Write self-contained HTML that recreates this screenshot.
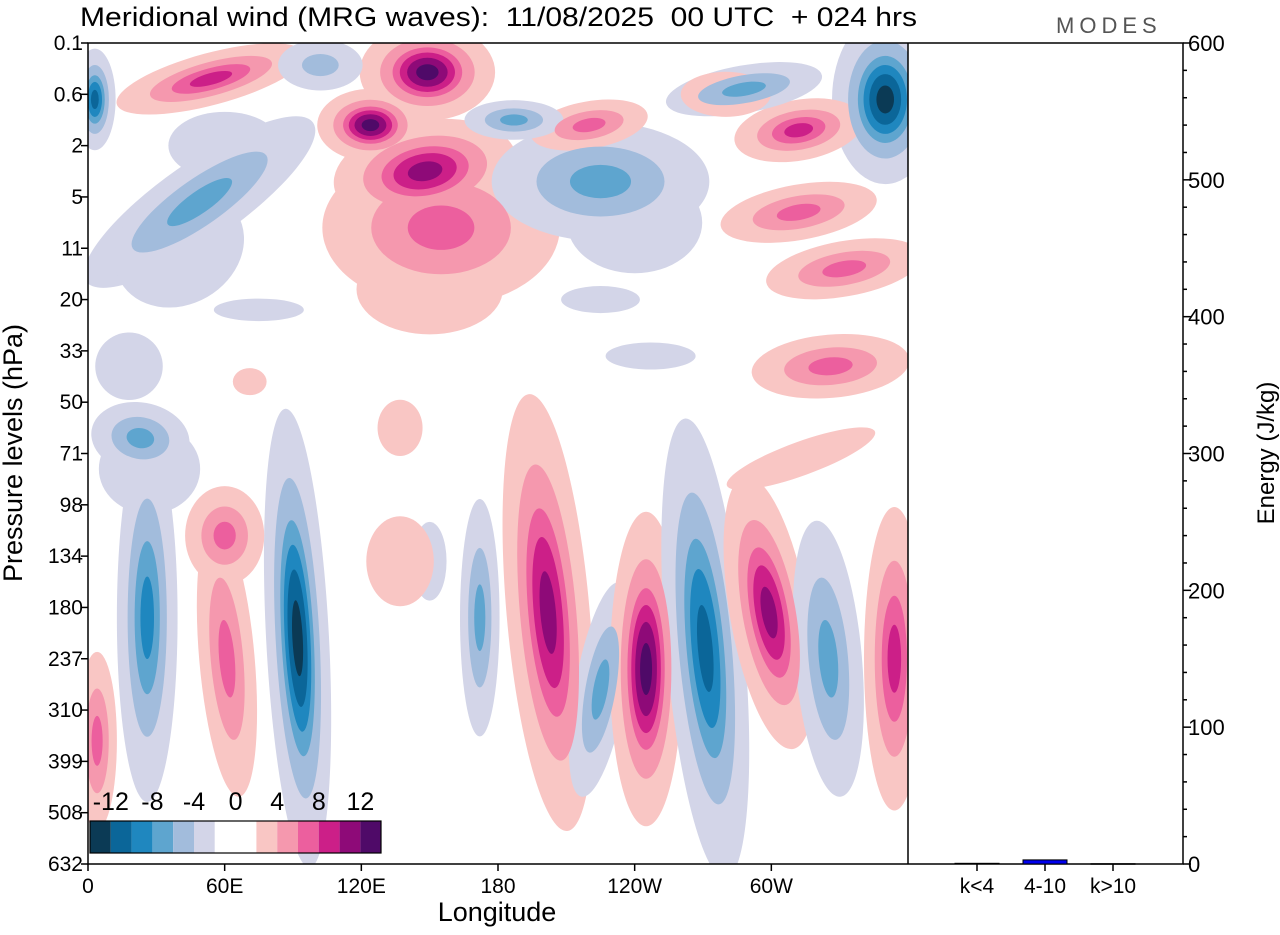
<!DOCTYPE html>
<html><head><meta charset="utf-8"><style>
body{margin:0;background:#fff;width:1280px;height:930px;overflow:hidden;font-family:"Liberation Sans",sans-serif}
</style></head><body>
<svg id="c" width="1280" height="930" xmlns="http://www.w3.org/2000/svg" font-family="Liberation Sans, sans-serif">
<defs><clipPath id="pc"><rect x="88" y="43" width="820" height="821"/></clipPath></defs>
<text x="80" y="26" font-size="27" textLength="837" lengthAdjust="spacingAndGlyphs" style="white-space:pre">Meridional wind (MRG waves):  11/08/2025  00 UTC  + 024 hrs</text>
<text x="1056" y="33" font-size="22" fill="#555" letter-spacing="5">MODES</text>
<g id="field" clip-path="url(#pc)"></g>
<g id="axes"></g>
</svg>
<script>
const blobLon=[26,92,61,60,172,202,225,245,271,299,325,354,4,23,149,124,148,155,150,54,3,350,49,225,220,312,312,332,288,102,187,326,71,18,313,247,75,225,137,150,27,137,40,60,240,280];
const blobLev=[11.2,11.6,12.0,9.6,11.2,11.1,12.6,12.2,11.8,11.1,12.0,12.0,13.6,7.7,0.57,1.6,2.5,3.6,4.8,0.7,1.1,1.1,3.1,2.7,1.6,1.7,3.3,4.4,0.9,0.43,1.5,6.3,6.6,6.3,8.1,6.1,5.2,5.0,7.5,10.1,8.3,10.1,4.0,2.0,3.5,1.0];
const blobPeak=[-9,-13,7,7,-7,11,-7,13,-11,11,-7,9,7,-7,13,13,11,7,3,9,-11,-13,-7,-7,7,9,7,7,-7,-5,-7,7,3,-3,3,-3,-3,-3,3,-3,-3,3,-3,-3,-3,3];
const blobSx=[14,13,14,20,10,18,13,15,17,17,17,14,10,25,28,22,40,60,65,45,9,22,70,55,30,30,40,40,40,25,25,40,15,30,70,40,40,35,20,15,45,30,60,50,60,40];
const blobSy=[85,95,70,25,60,95,55,65,100,60,70,70,45,18,20,15,22,40,40,12,22,35,20,30,12,14,14,14,12,15,10,16,12,30,15,12,10,12,25,35,40,40,50,30,45,20];
const blobRot=[0,-3,-5,0,0,-5,10,0,-5,-10,-5,0,0,10,0,0,-10,0,0,-15,0,0,-35,0,-10,-10,-10,-10,-10,0,0,-5,0,0,-20,0,0,0,0,0,0,0,-30,0,0,0];
const levelLabels=["0.1","0.6","2","5","11","20","33","50","71","98","134","180","237","310","399","508","632"];
const lonLabels=["0","60E","120E","180","120W","60W"];
const lonTicks=[0,60,120,180,240,300];
const energyTicks=[0,100,200,300,400,500,600];
const waveCats=["k<4","4-10","k>10"];
const waveEnergy=[0.5,3,0.2];
const cbLabels=["-12","-8","-4","0","4","8","12"];
const negCols=["#d3d5e8","#a2bcdc","#5ea5cf","#1f87bf","#0b6699","#0b3a55"];
const posCols=["#f9c6c4","#f598ae","#ec5f9e","#cc1f88","#8e0a78","#4f0a68"];
const X0=88,X1=908,Y0=43,Y1=864;
const xs=l=>X0+l*(X1-X0)/360, ys=i=>Y0+i*(Y1-Y0)/16, ye=e=>Y1-e*(Y1-Y0)/600;
const NS="http://www.w3.org/2000/svg";
function mk(t,a,p){const e=document.createElementNS(NS,t);for(const k in a)e.setAttribute(k,a[k]);(p||document.getElementById('c')).appendChild(e);return e;}
const field=document.getElementById('field');
for(let k=0;k<6;k++){const L=2+2*k;
 for(let i=0;i<blobLon.length;i++){const p=Math.abs(blobPeak[i]);if(p<=L)continue;
  const r=Math.sqrt(2*Math.log(p/L))*(k==0?1.25:k==1?1.1:1);const cx=xs(blobLon[i]),cy=ys(blobLev[i]);
  const e=mk('ellipse',{cx:cx,cy:cy,rx:blobSx[i]*r,ry:blobSy[i]*r,transform:`rotate(${blobRot[i]} ${cx} ${cy})`,fill:blobPeak[i]<0?negCols[k]:posCols[k]},field);
  
  }}
const ax=document.getElementById('axes');
const A={stroke:'#000','stroke-width':1.5};
mk('rect',{x:X0,y:Y0,width:1183-X0,height:Y1-Y0,fill:'none',stroke:'#000','stroke-width':1.5},ax);
mk('line',{x1:X1,y1:Y0,x2:X1,y2:Y1,...A},ax);
levelLabels.forEach((t,i)=>{mk('line',{x1:X0-7,x2:X0,y1:ys(i),y2:ys(i),...A},ax);
 const e=mk('text',{x:X0-5,y:ys(i)+7,'font-size':21,'text-anchor':'end'},ax);e.textContent=t;
 
 });
lonTicks.forEach((l,i)=>{mk('line',{x1:xs(l),x2:xs(l),y1:Y1,y2:Y1+7,...A},ax);
 const e=mk('text',{x:xs(l),y:Y1+29,'font-size':21,'text-anchor':'middle'},ax);e.textContent=lonLabels[i];
 
 });
for(let v=0;v<=600;v+=20){const big=v%100==0;mk('line',{x1:1183,x2:1183+(big?8:4),y1:ye(v),y2:ye(v),...A},ax);}
energyTicks.forEach(v=>{const e=mk('text',{x:1188,y:ye(v)+8,'font-size':22},ax);e.textContent=v;
 
 });
waveCats.forEach((c,i)=>{const cx=977+i*68;mk('line',{x1:cx,x2:cx,y1:Y1,y2:Y1+7,...A},ax);
 const b=mk('rect',{x:cx-22,y:ye(waveEnergy[i]),width:44,height:Math.max(0.5,Y1-ye(waveEnergy[i])),fill:i==1?'#0000ee':'#000',stroke:'#000','stroke-width':1},ax);
 
 
 const e=mk('text',{x:cx,y:Y1+29,'font-size':21,'text-anchor':'middle'},ax);e.textContent=c;
 
 });
let t=mk('text',{x:497,y:921,'font-size':27,'text-anchor':'middle'},ax);t.textContent='Longitude';


t=mk('text',{x:0,y:0,'font-size':27,'text-anchor':'middle',transform:'translate(22 453) rotate(-90)'},ax);t.textContent='Pressure levels (hPa)';


t=mk('text',{x:0,y:0,'font-size':24,'text-anchor':'middle',transform:'translate(1274 453) rotate(-90)'},ax);t.textContent='Energy (J/kg)';


const cb=[...negCols].reverse().concat(['#fff','#fff'],posCols);
cb.forEach((c,i)=>{const r=mk('rect',{x:90+i*20.8,y:821,width:20.8,height:32,fill:c},ax);
 
 });
mk('rect',{x:90,y:821,width:291,height:32,fill:'none',stroke:'#000','stroke-width':1.2},ax);
cbLabels.forEach((l,i)=>{const e=mk('text',{x:110.8+i*41.6,y:810,'font-size':25,'text-anchor':'middle'},ax);e.textContent=l;
 
 });
</script>
</body></html>
